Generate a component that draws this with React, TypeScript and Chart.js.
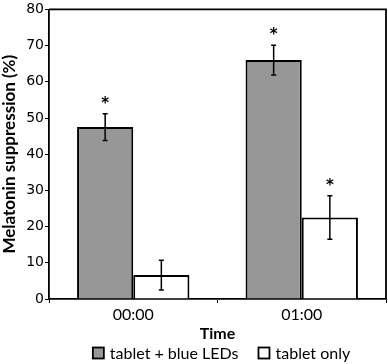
import React, { useEffect, useRef } from "react";
import { Chart, registerables } from "chart.js";

Chart.register(...registerables);

const categories = ["00:00", "01:00"];
const seriesNames = ["tablet + blue LEDs", "tablet only"];
const blueLedValues = [47.5, 66.0];
const tabletOnlyValues = [6.6, 22.5];
const blueLedErrors = [3.7, 4.1];
const tabletOnlyErrors = [4.1, 6.0];
const blueLedStars = [true, true];
const tabletOnlyStars = [false, true];
const yTicks = [0, 10, 20, 30, 40, 50, 60, 70, 80];

const errors = [blueLedErrors, tabletOnlyErrors];
const stars = [blueLedStars, tabletOnlyStars];

const errorBarPlugin = {
  id: "errorBars",
  afterDatasetsDraw(chart: any) {
    const ctx = chart.ctx;
    const yScale = chart.scales.y;
    ctx.save();
    chart.data.datasets.forEach((ds: any, i: number) => {
      const meta = chart.getDatasetMeta(i);
      meta.data.forEach((el: any, j: number) => {
        const v = ds.data[j];
        const e = errors[i][j];
        const x = el.x;
        const yTop = yScale.getPixelForValue(v + e);
        const yBot = yScale.getPixelForValue(v - e);
        ctx.strokeStyle = "#000";
        ctx.lineWidth = 1.5;
        ctx.beginPath();
        ctx.moveTo(x, yTop);
        ctx.lineTo(x, yBot);
        ctx.moveTo(x - 2.5, yTop);
        ctx.lineTo(x + 2.5, yTop);
        ctx.moveTo(x - 2.5, yBot);
        ctx.lineTo(x + 2.5, yBot);
        ctx.stroke();
        if (stars[i][j]) {
          ctx.fillStyle = "#000";
          ctx.font = "bold 15px 'DejaVu Sans'";
          ctx.textAlign = "center";
          ctx.textBaseline = "middle";
          ctx.fillText("*", x, yTop - 10);
        }
      });
    });
    ctx.restore();
  },
};

const framePlugin = {
  id: "frame",
  afterDraw(chart: any) {
    const { ctx, chartArea } = chart;
    ctx.save();
    ctx.strokeStyle = "#000";
    ctx.lineWidth = 1.8;
    ctx.beginPath();
    ctx.moveTo(chartArea.left, chartArea.top);
    ctx.lineTo(chartArea.right, chartArea.top);
    ctx.lineTo(chartArea.right, chartArea.bottom);
    ctx.stroke();
    ctx.restore();
  },
};

const legendPlugin = {
  id: "customLegend",
  afterDraw(chart: any) {
    const { ctx, chartArea } = chart;
    ctx.save();
    ctx.font = "16px Lato";
    ctx.textBaseline = "middle";
    ctx.textAlign = "left";
    const box = 11;
    const gapBoxText = 6;
    const gapItems = 20;
    const items = chart.data.datasets.map((ds: any) => ({
      label: ds.label,
      fill: ds.backgroundColor,
      w: box + gapBoxText + ctx.measureText(ds.label).width,
    }));
    const total = items.reduce((s: number, it: any) => s + it.w, 0) + gapItems * (items.length - 1);
    const cx = (chartArea.left + chartArea.right) / 2 + 4;
    let x = cx - total / 2;
    const y = 353;
    items.forEach((it: any) => {
      ctx.fillStyle = it.fill;
      ctx.fillRect(x, y - box / 2, box, box);
      ctx.strokeStyle = "#000";
      ctx.lineWidth = 1.8;
      ctx.strokeRect(x, y - box / 2, box, box);
      ctx.fillStyle = "#000";
      ctx.fillText(it.label, x + box + gapBoxText, y + 1);
      x += it.w + gapItems;
    });
    ctx.restore();
  },
};

function BarChart() {
  const ref = useRef<HTMLCanvasElement>(null);
  useEffect(() => {
    const chart = new Chart(ref.current!, {
      type: "bar",
      data: {
        labels: categories,
        datasets: [
          {
            label: seriesNames[0],
            data: blueLedValues,
            backgroundColor: "#979797",
            borderColor: "#000",
            borderWidth: 2,
            categoryPercentage: 0.667,
            barPercentage: 1.0,
          },
          {
            label: seriesNames[1],
            data: tabletOnlyValues,
            backgroundColor: "#ffffff",
            borderColor: "#000",
            borderWidth: 2,
            categoryPercentage: 0.667,
            barPercentage: 1.0,
          },
        ],
      },
      options: {
        animation: false,
        responsive: false,
        maintainAspectRatio: false,
        layout: { padding: { top: 8, right: 2, bottom: 0, left: 0 } },
        plugins: {
          legend: { display: false },
          tooltip: { enabled: false },
        },
        scales: {
          x: {
            grid: {
              drawOnChartArea: false,
              drawTicks: true,
              tickLength: 4,
              color: "#000",
              lineWidth: 1,
            },
            border: { display: true, color: "#000", width: 1.8 },
            ticks: {
              color: "#000",
              font: { family: "Lato", size: 16 },
              padding: 2,
            },
            title: {
              display: true,
              text: "Time",
              color: "#000",
              font: { family: "Lato", size: 16, weight: "bold" },
              padding: { top: 0, bottom: 21 },
            },
            afterFit(scale: any) {
              scale.height = 65;
            },
          },
          y: {
            min: 0,
            max: 80,
            afterBuildTicks(scale: any) {
              scale.ticks = yTicks.map((v) => ({ value: v }));
            },
            grid: {
              drawOnChartArea: false,
              drawTicks: true,
              tickLength: 4,
              color: "#000",
              lineWidth: 1,
            },
            border: { display: true, color: "#000", width: 1.8 },
            ticks: {
              color: "#000",
              font: { family: "DejaVu Sans", size: 14 },
              padding: 1,
            },
            title: {
              display: true,
              text: "Melatonin suppression (%)",
              color: "#000",
              font: { family: "Lato", size: 17, weight: "bold" },
              padding: { top: -1, bottom: 0 },
            },
            afterFit(scale: any) {
              scale.width = 49;
            },
          },
        },
      },
      plugins: [errorBarPlugin, framePlugin, legendPlugin],
    });
    return () => chart.destroy();
  }, []);
  return <canvas ref={ref} width={388} height={364} style={{ display: "block" }} />;
}

export default function App() {
  return (
    <div style={{ position: "fixed", left: 0, top: 0, width: 388, height: 364, background: "#fff" }}>
      <BarChart />
    </div>
  );
}
